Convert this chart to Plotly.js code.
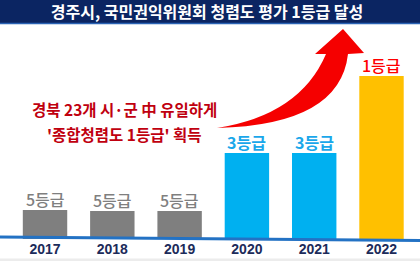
<!DOCTYPE html>
<html>
<head>
<meta charset="utf-8">
<script src="https://cdn.plot.ly/plotly-3.0.1.min.js"></script>
<style>html,body{margin:0;padding:0;background:#fff;}#chart{width:420px;height:261px;}</style>
</head>
<body>
<div id="chart"></div>
<script>
// ---- data ----
const years = ['2017', '2018', '2019', '2020', '2021', '2022'];
const barHeights = [29, 28, 28, 86, 86, 163];
const gradeLabels = ['5등급', '5등급', '5등급', '3등급', '3등급', '1등급'];
const titleText = '경주시, 국민권익위원회 청렴도 평가 1등급 달성';
const noteLines = ['경북 23개 시·군 中 유일하게', "'종합청렴도 1등급' 획득"];

// ---- layout helpers (pixel -> paper) ----
const W = 420, H = 261, B = 22, PH = H - B;
const px = x => x / W;
const py = y => (PH - y) / PH;
const P = (x, y) => px(x) + ',' + py(y);

const barColors = ['#7f7f7f', '#7f7f7f', '#7f7f7f', '#00b0f0', '#00b0f0', '#ffc000'];
const labelColors = ['#7f7f7f', '#7f7f7f', '#7f7f7f', '#1aa7ea', '#1aa7ea', '#ff0000'];
const labelWeights = [500, 500, 500, 'bold', 'bold', 500];

const trace = {
  type: 'bar',
  x: years,
  y: barHeights,
  width: 0.66,
  marker: {color: barColors, line: {width: 0}},
  hoverinfo: 'none'
};

const gradeAnnotations = years.map((yr, i) => ({
  xref: 'x', yref: 'y', x: i, y: barHeights[i], text: gradeLabels[i],
  showarrow: false, xanchor: 'center', yanchor: 'middle', yshift: 11,
  font: {family: '"Noto Sans CJK KR", sans-serif', size: 16, color: labelColors[i], weight: labelWeights[i]}
}));

const arrowPath = 'M ' + P(217, 128) + ' Q ' + P(340, 125) + ' ' + P(348, 54) +
  ' L ' + P(364, 53) + ' L ' + P(343, 29) + ' L ' + P(315, 54) + ' L ' + P(326, 54) +
  ' Q ' + P(300, 115) + ' ' + P(217, 128) + ' Z';

const layout = {
  width: W, height: H,
  margin: {l: 0, r: 0, t: 0, b: B, pad: 0},
  paper_bgcolor: '#ffffff', plot_bgcolor: '#ffffff',
  showlegend: false,
  title: {
    text: titleText,
    x: px(207), xanchor: 'center', xref: 'paper',
    y: 1 - 12 / H, yanchor: 'middle', yref: 'container',
    font: {family: '"Noto Sans CJK KR", sans-serif', size: 16, color: '#ffffff', weight: 'bold'}
  },
  xaxis: {
    type: 'category',
    range: [-0.669, 5.572],
    showgrid: false, zeroline: false, showline: false, ticks: '',
    tickfont: {family: '"Liberation Sans Narrow", "Liberation Sans", Arial, sans-serif', size: 14, color: '#1c2b5a', weight: 'bold'},
    fixedrange: true
  },
  yaxis: {range: [0, PH], visible: false, fixedrange: true},
  shapes: [
    {type: 'rect', xref: 'paper', yref: 'paper', x0: 0, x1: 1, y0: py(24), y1: py(0),
     fillcolor: '#0b2562', line: {width: 0}, layer: 'below'},
    {type: 'line', xref: 'paper', yref: 'paper', x0: 0, x1: 1, y0: py(23.5), y1: py(23.5),
     line: {color: '#2a63b5', width: 1.5}, layer: 'below'},
    {type: 'rect', xref: 'paper', yref: 'paper', x0: 0, x1: 1, y0: py(261), y1: py(258.5),
     fillcolor: '#ececec', line: {width: 0}, layer: 'below'},
    {type: 'line', xref: 'paper', yref: 'paper', x0: 0, x1: 1, y0: py(237), y1: py(240.5),
     line: {color: '#2372c4', width: 3}, layer: 'above'},
    {type: 'path', xref: 'paper', yref: 'paper', path: arrowPath,
     fillcolor: '#f50000', line: {width: 0}, layer: 'above'}
  ],
  annotations: [
    {xref: 'paper', yref: 'paper', x: px(124.5), y: py(109), text: noteLines[0], showarrow: false,
     xanchor: 'center', yanchor: 'middle',
     font: {family: '"Noto Sans CJK KR", sans-serif', size: 15.5, color: '#c0000f', weight: 'bold'}},
    {xref: 'paper', yref: 'paper', x: px(124), y: py(133.5), text: noteLines[1], showarrow: false,
     xanchor: 'center', yanchor: 'middle',
     font: {family: '"Noto Sans CJK KR", sans-serif', size: 15.5, color: '#c0000f', weight: 'bold'}}
  ].concat(gradeAnnotations)
};

Plotly.newPlot('chart', [trace], layout, {displayModeBar: false, staticPlot: true});
</script>
</body>
</html>
